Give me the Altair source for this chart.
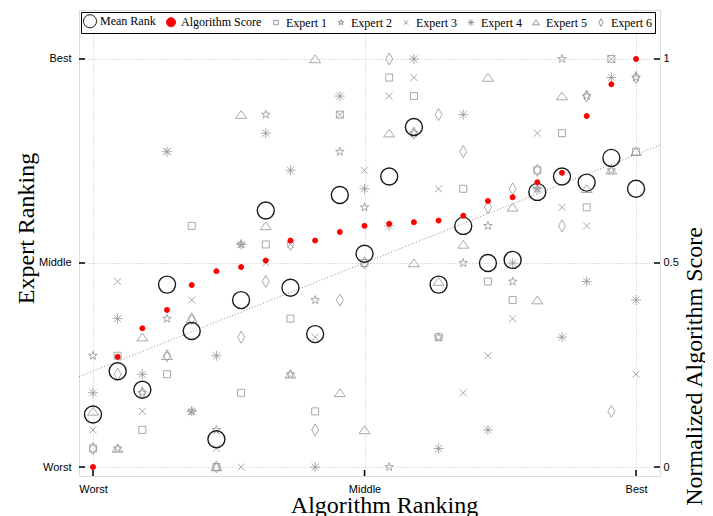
import altair as alt
import pandas as pd

# ---------------- data ----------------
algorithms = list(range(1, 24))
expert_1 = [2, 7, 3, 6, 14, 1, 5, 13, 9, 4, 20, 12, 22, 21, 8, 16, 11, 10, 17, 19, 15, 23, 18]
expert_2 = [7, 2, 5, 9, 4, 3, 13, 20, 6, 10, 18, 15, 1, 19, 8, 12, 14, 11, 16, 23, 21, 17, 22]
expert_3 = [3, 11, 4, 18, 10, 2, 1, 12, 13, 8, 20, 17, 21, 22, 16, 5, 7, 9, 19, 15, 14, 23, 6]
expert_4 = [5, 9, 6, 18, 4, 7, 13, 19, 17, 1, 21, 16, 14, 23, 2, 20, 3, 12, 16, 8, 11, 22, 10]
expert_5 = [4, 2, 8, 7, 9, 1, 20, 14, 6, 23, 5, 3, 19, 12, 11, 13, 22, 15, 10, 21, 16, 17, 18]
expert_6 = [2, 6, 5, 7, 9, 1, 8, 11, 13, 3, 10, 12, 23, 19, 20, 18, 15, 16, 17, 14, 21, 4, 22]
algorithm_score = [0.0, 0.27, 0.34, 0.385, 0.446, 0.48, 0.49, 0.506, 0.555, 0.555, 0.576,
                   0.591, 0.596, 0.6, 0.604, 0.616, 0.652, 0.661, 0.698, 0.721, 0.86, 0.938, 1.0]

series_names = ["Mean Rank", "Algorithm Score", "Expert 1", "Expert 2",
                "Expert 3", "Expert 4", "Expert 5", "Expert 6"]
rank_tick_values = [1, 12, 23]
rank_tick_labels = ["Worst", "Middle", "Best"]
score_tick_values = [0, 0.5, 1]

experts = {"Expert 1": expert_1, "Expert 2": expert_2, "Expert 3": expert_3,
           "Expert 4": expert_4, "Expert 5": expert_5, "Expert 6": expert_6}
rows = []
for name, ranks in experts.items():
    for a, r in zip(algorithms, ranks):
        rows.append({"alg": a, "rank": r, "series": name})
expert_df = pd.DataFrame(rows)
score_df = pd.DataFrame({"alg": algorithms, "score": algorithm_score,
                         "series": ["Algorithm Score"] * len(algorithms)})
ticks_df = pd.DataFrame({"v": rank_tick_values})

# ---------------- styling ----------------
W, H = 581, 466
X_DOMAIN = [0.434, 23.97]
Y_DOMAIN = [0.515, 25.64]
S_DOMAIN = [(Y_DOMAIN[0] - 1) / 22, (Y_DOMAIN[1] - 1) / 22]

STAR = ("M0,-0.9L0.2,-0.278L0.856,-0.278L0.327,0.106L0.529,0.728L0,0.344"
        "L-0.529,0.728L-0.327,0.106L-0.856,-0.278L-0.2,-0.278Z")
SQUARE = "M-0.7,-0.7L0.7,-0.7L0.7,0.7L-0.7,0.7Z"
XMARK = "M-0.7,-0.7L0.7,0.7M-0.7,0.7L0.7,-0.7"
ASTER = "M-1,0L1,0M0,-1L0,1M-0.71,-0.71L0.71,0.71M-0.71,0.71L0.71,-0.71"
TRI = "M0,-0.8L1.1,0.75L-1.1,0.75Z"
DIAM = "M0,-1.2L0.7,0L0,1.2L-0.7,0Z"

GRAY = "#939393"
shape_range = ["circle", "circle", SQUARE, STAR, XMARK, ASTER, TRI, DIAM]
stroke_range = ["#1a1a1a", "#ff0000"] + [GRAY] * 6
fill_range = ["transparent", "#ff0000"] + ["transparent"] * 6

SERIF = "Liberation Serif"
SANS = "Liberation Sans"


def label_expr(values, labels):
    parts = [f"datum.value == {v} ? '{l}'" for v, l in zip(values[:-1], labels[:-1])]
    return " : ".join(parts) + f" : '{labels[-1]}'"


legend = alt.Legend(
    title=None, orient="none", legendX=2, legendY=2, direction="horizontal",
    fillColor="white", strokeColor="black", padding=3, columnPadding=8,
    labelFont=SERIF, labelFontSize=12, labelColor="black", labelOffset=4,
    symbolStrokeWidth=1, symbolOpacity=1,
    symbolSize=alt.ExprRef(expr="datum.value === 'Mean Rank' ? 170 : "
                                "(datum.value === 'Algorithm Score' ? 80 : 40)"),
)

x_scale = alt.Scale(domain=X_DOMAIN, nice=False, zero=False)
y_scale = alt.Scale(domain=Y_DOMAIN, nice=False, zero=False)
s_scale = alt.Scale(domain=S_DOMAIN, nice=False, zero=False)

x_axis = alt.Axis(values=rank_tick_values, labelExpr=label_expr(rank_tick_values, rank_tick_labels),
                  grid=True, gridColor="#c4c4c4", gridDash=[1, 2], gridWidth=1,
                  ticks=False, domain=False, labelFont=SANS, labelFontSize=11,
                  labelColor="black", labelPadding=7, labelFlush=False,
                  title="Algorithm Ranking", titleFont=SERIF, titleFontSize=24,
                  titleFontWeight="normal", titleColor="black",
                  titleX=305, titleY=36, titleAlign="center", titleBaseline="alphabetic")
y_axis = alt.Axis(orient="left", values=rank_tick_values,
                  labelExpr=label_expr(rank_tick_values, rank_tick_labels),
                  grid=True, gridColor="#c4c4c4", gridDash=[1, 2], gridWidth=1,
                  ticks=False, domain=False, labelFont=SANS, labelFontSize=11,
                  labelColor="black", labelPadding=8, labelFlush=False,
                  title="Expert Ranking", titleFont=SERIF, titleFontSize=24,
                  titleFontWeight="normal", titleColor="black", titleAngle=270,
                  titleX=-46, titleY=218, titleAlign="center", titleBaseline="alphabetic")
s_axis = alt.Axis(orient="right", values=score_tick_values, labelExpr="'' + datum.value",
                  grid=False, ticks=False, domain=False, labelFont=SANS, labelFontSize=11,
                  labelColor="black", labelPadding=3, labelFlush=False,
                  title="Normalized Algorithm Score", titleFont=SERIF, titleFontSize=24,
                  titleFontWeight="normal", titleColor="black", titleAngle=270,
                  titleX=41, titleY=356, titleAlign="center", titleBaseline="alphabetic")

X = alt.X("alg:Q", scale=x_scale, axis=x_axis)


def series_enc():
    return dict(
        shape=alt.Shape("series:N", scale=alt.Scale(domain=series_names, range=shape_range), legend=legend),
        stroke=alt.Stroke("series:N", scale=alt.Scale(domain=series_names, range=stroke_range), legend=legend),
        fill=alt.Fill("series:N", scale=alt.Scale(domain=series_names, range=fill_range), legend=legend),
    )


means = alt.Chart(expert_df).transform_aggregate(mean_rank="mean(rank)", groupby=["alg"])

trend = means.transform_regression("alg", "mean_rank", extent=X_DOMAIN).mark_line(
    color="#8c8c8c", strokeDash=[1, 2], strokeWidth=1
).encode(x=X, y=alt.Y("mean_rank:Q", scale=y_scale, axis=y_axis))

expert_pts = alt.Chart(expert_df).mark_point(size=100, strokeWidth=0.8, opacity=1).encode(
    x=X, y=alt.Y("rank:Q", scale=y_scale, axis=y_axis), **series_enc()
)

mean_pts = means.transform_calculate(series="'Mean Rank'").mark_point(
    size=289, strokeWidth=1.4, opacity=1
).encode(x=X, y=alt.Y("mean_rank:Q", scale=y_scale, axis=y_axis), **series_enc())

tick_base = alt.Chart(ticks_df).mark_rule(color="black", strokeWidth=1.5)
bottom_ticks = tick_base.encode(x=alt.X("v:Q", scale=x_scale, axis=x_axis),
                                y=alt.value(H - 6), y2=alt.value(H))
left_ticks = tick_base.encode(y=alt.Y("v:Q", scale=y_scale, axis=y_axis),
                              x=alt.value(0), x2=alt.value(6))
right_ticks = tick_base.encode(y=alt.Y("v:Q", scale=y_scale, axis=y_axis),
                               x=alt.value(W - 6), x2=alt.value(W))

left = alt.layer(trend, expert_pts, mean_pts, bottom_ticks, left_ticks, right_ticks)

score_pts = alt.Chart(score_df).mark_point(size=25, strokeWidth=1, filled=True, opacity=1).encode(
    x=X, y=alt.Y("score:Q", scale=s_scale, axis=s_axis), **series_enc()
)

chart = alt.layer(left, score_pts).resolve_scale(y="independent").properties(
    width=W, height=H,
    autosize=alt.AutoSizeParams(type="none"),
    padding={"left": 71, "top": 2, "right": 45, "bottom": 40},
).configure_view(stroke="black", strokeWidth=1.5).configure(background="white")

chart.save("out.html", embed_options={"renderer": "svg", "actions": False})
